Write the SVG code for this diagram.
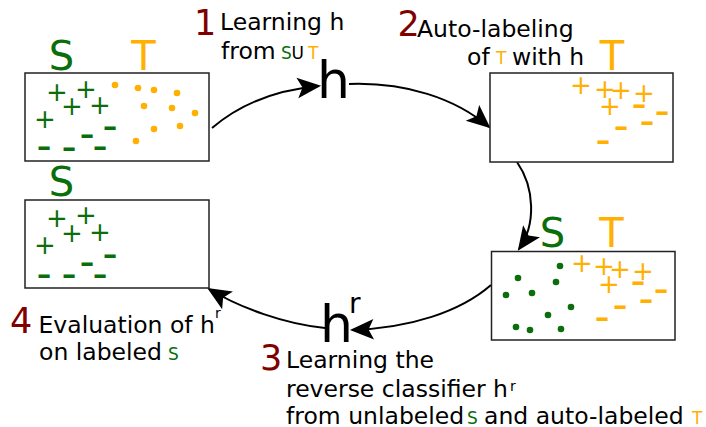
<svg xmlns="http://www.w3.org/2000/svg" width="706" height="427" viewBox="0 0 706 427">
<style>
text{font-family:"DejaVu Sans","Liberation Sans",sans-serif}
.box{fill:#fff;stroke:#222;stroke-width:1.5}
.g{fill:#0a6e0a}
.o{fill:#ffb000}
.num{fill:#800000;font-size:35px}
.lbl{fill:#000;font-size:23.5px}
.big{font-size:40px;text-anchor:middle}
.hh{font-size:52px;fill:#000}
.p{font-size:26px;text-anchor:middle}
.m{font-size:42px;text-anchor:middle}
.sm{font-size:17px}
.sup{font-size:14px;fill:#000}
.edge{fill:none;stroke:#000;stroke-width:2;marker-end:url(#ah)}
</style>
<defs>
<marker id="ah" markerUnits="userSpaceOnUse" markerWidth="30" markerHeight="30" viewBox="-25 -13 29 26" refX="0" refY="0" orient="auto">
<path d="M2,0 L-21,-10 L-16,0 L-21,10 Z" fill="#000"/>
</marker>
</defs>

<g id="connectors">
<path class="edge" d="M212,128 C240,104 275,90 319,86"/>
<path class="edge" d="M349,84 C405,82 455,98 489,127"/>
<path class="edge" d="M517,162 C535,188 536,225 519,249"/>
<path class="edge" d="M491,285 C460,312 410,328 352,330"/>
<path class="edge" d="M325,328 C285,324 240,308 209,289"/>
</g>

<g id="box-source-target">
<text class="big g" x="61.5" y="70">S</text>
<text class="big o" x="143.5" y="70">T</text>
<rect class="box" x="25" y="73" width="184" height="88"/>
<g class="g">
<text class="p" x="57" y="101">+</text>
<text class="p" x="86" y="98">+</text>
<text class="p" x="72" y="115">+</text>
<text class="p" x="100" y="114">+</text>
<text class="p" x="45" y="128">+</text>
<text class="m" x="110" y="139.5">-</text>
<text class="m" x="87" y="147.5">-</text>
<text class="m" x="44" y="159.5">-</text>
<text class="m" x="69" y="160.5">-</text>
<text class="m" x="100" y="159.5">-</text>
</g>
<g class="o">
<circle cx="115" cy="85" r="3.3"/><circle cx="138" cy="88" r="3.3"/><circle cx="154" cy="90" r="3.3"/>
<circle cx="177" cy="93" r="3.3"/><circle cx="144" cy="106" r="3.3"/><circle cx="172" cy="108" r="3.3"/>
<circle cx="195" cy="113" r="3.3"/><circle cx="154" cy="129" r="3.3"/><circle cx="180" cy="126" r="3.3"/>
<circle cx="136" cy="141" r="3.3"/>
</g>
</g>

<g id="h-classifier">
<text class="hh" x="317" y="98">h</text>
</g>

<g id="box-target-labeled">
<text class="big o" x="612" y="70">T</text>
<rect class="box" x="490" y="73" width="183" height="89"/>
<g class="o">
<text class="p" x="581" y="94">+</text>
<text class="p" x="605" y="98">+</text>
<text class="p" x="621" y="99">+</text>
<text class="p" x="644" y="102">+</text>
<text class="p" x="610" y="115">+</text>
<text class="m" x="639" y="117.5">-</text>
<text class="m" x="662" y="124.5">-</text>
<text class="m" x="647" y="134.5">-</text>
<text class="m" x="621" y="139.5">-</text>
<text class="m" x="603" y="153.5">-</text>
</g>
</g>

<g id="box-reverse">
<text class="big g" x="552.5" y="247">S</text>
<text class="big o" x="611.5" y="247">T</text>
<rect class="box" x="491.5" y="251.5" width="183.5" height="88.5"/>
<g class="g">
<circle cx="560" cy="266" r="3.3"/><circle cx="518" cy="278" r="3.3"/><circle cx="556" cy="282" r="3.3"/>
<circle cx="506" cy="295" r="3.3"/><circle cx="532" cy="293" r="3.3"/><circle cx="571" cy="307" r="3.3"/>
<circle cx="548" cy="315" r="3.3"/><circle cx="516" cy="327" r="3.3"/><circle cx="530" cy="330" r="3.3"/>
<circle cx="561" cy="329" r="3.3"/>
</g>
<g class="o">
<text class="p" x="582" y="272">+</text>
<text class="p" x="604" y="275">+</text>
<text class="p" x="620" y="278">+</text>
<text class="p" x="643" y="280">+</text>
<text class="p" x="609" y="293">+</text>
<text class="m" x="638" y="294.5">-</text>
<text class="m" x="661" y="302.5">-</text>
<text class="m" x="646" y="312.5">-</text>
<text class="m" x="620" y="318.5">-</text>
<text class="m" x="602" y="330.5">-</text>
</g>
</g>

<g id="hr-classifier">
<text class="hh" x="320" y="342">h</text>
<text x="349" y="313" style="font-size:28px;fill:#000">r</text>
</g>

<g id="box-source-eval">
<text class="big g" x="61.5" y="196">S</text>
<rect class="box" x="25" y="200" width="184" height="88"/>
<g class="g">
<text class="p" x="57" y="227">+</text>
<text class="p" x="86" y="224">+</text>
<text class="p" x="72" y="242">+</text>
<text class="p" x="100" y="241">+</text>
<text class="p" x="45" y="254">+</text>
<text class="m" x="110" y="267.5">-</text>
<text class="m" x="87" y="275.5">-</text>
<text class="m" x="44" y="287.5">-</text>
<text class="m" x="69" y="287.5">-</text>
<text class="m" x="100" y="287.5">-</text>
</g>
</g>

<g id="step1">
<text class="num" x="194" y="35">1</text>
<text class="lbl" x="220" y="30">Learning h</text>
<text class="lbl" x="221" y="59">from</text>
<text class="sm g" x="281" y="59">S</text>
<text class="sm" x="291.5" y="59">U</text>
<text class="sm o" x="308" y="59">T</text>
</g>

<g id="step2">
<text class="num" x="397.5" y="36">2</text>
<text class="lbl" x="417" y="37">Auto-labeling</text>
<text class="lbl" x="467" y="65">of</text>
<text class="sm o" x="496" y="64">T</text>
<text class="lbl" x="512" y="65">with h</text>
</g>

<g id="step3">
<text class="num" x="260" y="370">3</text>
<text class="lbl" x="286" y="368">Learning the</text>
<text class="lbl" x="286" y="397">reverse classifier h</text>
<text class="sup" x="510" y="391">r</text>
<text class="lbl" x="286" y="424">from unlabeled</text>
<text class="sm g" x="467" y="424">S</text>
<text class="lbl" x="484" y="424">and auto-labeled</text>
<text class="sm o" x="692" y="424">T</text>
</g>

<g id="step4">
<text class="num" x="10" y="333">4</text>
<text class="lbl" x="38.5" y="333">Evaluation of h</text>
<text class="sup" x="215" y="318">r</text>
<text class="lbl" x="39" y="360">on labeled</text>
<text class="sm g" x="168" y="360">S</text>
</g>
</svg>
